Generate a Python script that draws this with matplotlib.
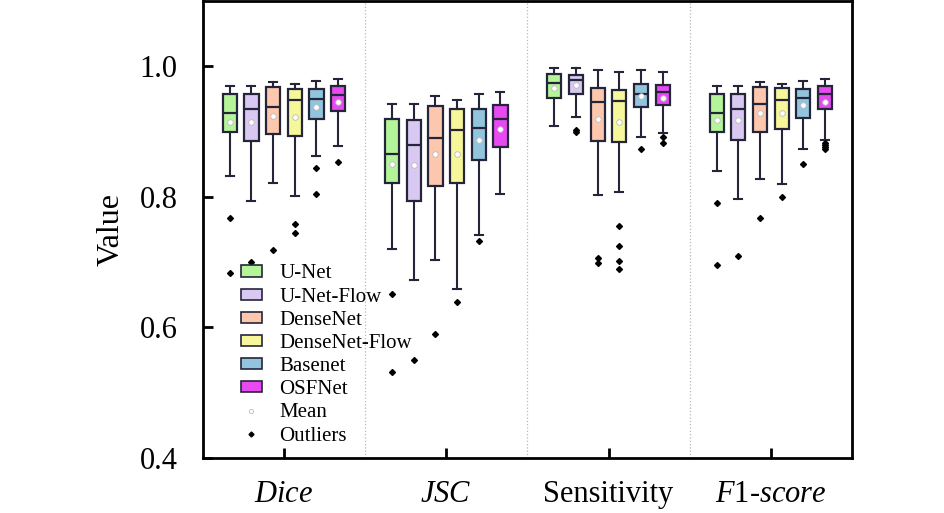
import numpy as np
import matplotlib
matplotlib.use('Agg')
import matplotlib.pyplot as plt
from matplotlib.patches import Patch
from matplotlib.lines import Line2D

plt.rcParams['font.family'] = ['Liberation Serif', 'DejaVu Serif']
plt.rcParams['mathtext.fontset'] = 'custom'
plt.rcParams['mathtext.rm'] = 'Liberation Serif'
plt.rcParams['mathtext.it'] = 'Liberation Serif:italic'

metrics = ['Dice', 'JSC', 'Sensitivity', 'F1-score']
metric_labels = [r'$\it{Dice}$', r'$\it{JSC}$', 'Sensitivity', r'$\it{F}$1-$\it{score}$']
models = ['U-Net', 'U-Net-Flow', 'DenseNet', 'DenseNet-Flow', 'Basenet', 'OSFNet']
colors = ['#b5f59a', '#d8c8f2', '#fcc7ad', '#f5f79a', '#92c4de', '#e64af0']

# per metric, per model: [whisker_low, q1, median, q3, whisker_high]
dice_stats = [[0.832, 0.899, 0.928, 0.958, 0.970],
              [0.793, 0.885, 0.934, 0.957, 0.970],
              [0.821, 0.897, 0.938, 0.968, 0.976],
              [0.802, 0.894, 0.948, 0.966, 0.973],
              [0.862, 0.920, 0.950, 0.965, 0.978],
              [0.878, 0.932, 0.956, 0.970, 0.980]]
jsc_stats = [[0.720, 0.822, 0.865, 0.919, 0.942],
             [0.672, 0.793, 0.879, 0.918, 0.943],
             [0.704, 0.816, 0.890, 0.939, 0.954],
             [0.659, 0.821, 0.903, 0.935, 0.949],
             [0.741, 0.856, 0.906, 0.934, 0.957],
             [0.804, 0.876, 0.920, 0.941, 0.960]]
sens_stats = [[0.909, 0.951, 0.974, 0.988, 0.997],
              [0.922, 0.957, 0.979, 0.987, 0.997],
              [0.803, 0.886, 0.946, 0.967, 0.995],
              [0.808, 0.884, 0.947, 0.964, 0.991],
              [0.891, 0.938, 0.958, 0.973, 0.994],
              [0.898, 0.940, 0.960, 0.972, 0.991]]
f1_stats = [[0.840, 0.900, 0.929, 0.958, 0.970],
            [0.797, 0.887, 0.935, 0.957, 0.970],
            [0.828, 0.899, 0.942, 0.968, 0.976],
            [0.819, 0.904, 0.949, 0.967, 0.973],
            [0.874, 0.921, 0.952, 0.965, 0.978],
            [0.887, 0.935, 0.957, 0.970, 0.980]]

dice_means = [0.914, 0.914, 0.924, 0.922, 0.937, 0.946]
jsc_means = [0.850, 0.849, 0.866, 0.866, 0.887, 0.904]
sens_means = [0.967, 0.971, 0.919, 0.915, 0.954, 0.951]
f1_means = [0.918, 0.917, 0.928, 0.928, 0.940, 0.946]

dice_fliers = [[0.767, 0.684], [0.700], [0.719], [0.759, 0.745], [0.844, 0.805], [0.853]]
jsc_fliers = [[0.651, 0.532], [0.550], [0.590], [0.639], [0.733], []]
sens_fliers = [[], [0.900, 0.902], [0.707, 0.698], [0.756, 0.725, 0.702, 0.690], [0.874], [0.891, 0.882]]
f1_fliers = [[0.790, 0.695], [0.709], [0.768], [0.800], [0.850], [0.882, 0.879, 0.876, 0.874]]

all_stats = [dice_stats, jsc_stats, sens_stats, f1_stats]
all_means = [dice_means, jsc_means, sens_means, f1_means]
all_fliers = [dice_fliers, jsc_fliers, sens_fliers, f1_fliers]

fig = plt.figure(figsize=(9.45, 5.13), dpi=100)
ax = fig.add_axes([0.2145, 0.1072, 0.6871, 0.8908])

step = 0.1335
width = 0.088
edge = '#25253a'

for g in range(len(metrics)):
    for m in range(len(models)):
        wl, q1, med, q3, wh = all_stats[g][m]
        st = [dict(whislo=wl, q1=q1, med=med, q3=q3, whishi=wh,
                   mean=all_means[g][m], fliers=all_fliers[g][m])]
        pos = g + (m - 2.5) * step
        bp = ax.bxp(st, positions=[pos], widths=width, patch_artist=True,
                    showmeans=True, showfliers=True, manage_ticks=False,
                    boxprops=dict(facecolor=colors[m], edgecolor=edge, linewidth=1.6),
                    medianprops=dict(color=edge, linewidth=1.6),
                    whiskerprops=dict(color=edge, linewidth=1.5),
                    capprops=dict(color=edge, linewidth=1.5),
                    capwidths=width * 0.55,
                    meanprops=dict(marker='o', markerfacecolor='white',
                                   markeredgecolor='#bbbbbb', markersize=4,
                                   markeredgewidth=0.6),
                    flierprops=dict(marker='D', markerfacecolor='black',
                                    markeredgecolor='black', markersize=3))

for sep in [0.5, 1.5, 2.5]:
    ax.axvline(sep, color='#b8b8b8', linestyle=':', linewidth=0.9, zorder=0)

ax.set_xlim(-0.5, 3.5)
ax.set_ylim(0.4, 1.1)
ax.set_yticks([0.4, 0.6, 0.8, 1.0])
ax.set_yticklabels(['0.4', '0.6', '0.8', '1.0'])
ax.set_xticks(range(len(metrics)))
ax.set_xticklabels(metric_labels)
ax.tick_params(axis='both', direction='in', length=7, width=2, labelsize=22)
ax.tick_params(axis='x', pad=16)
ax.tick_params(axis='y', pad=18)
for s in ax.spines.values():
    s.set_linewidth(2)
ax.set_ylabel('Value', fontsize=23, labelpad=10)

handles = [Patch(facecolor=c, edgecolor=edge, linewidth=1.2) for c in colors]
handles.append(Line2D([], [], linestyle='none', marker='o', markerfacecolor='white',
                      markeredgecolor='#bbbbbb', markersize=3, markeredgewidth=0.6))
handles.append(Line2D([], [], linestyle='none', marker='D', markerfacecolor='black',
                      markeredgecolor='black', markersize=2.5))
ax.legend(handles, models + ['Mean', 'Outliers'], loc='upper left',
          bbox_to_anchor=(0.046, 0.442), frameon=False, fontsize=15,
          labelspacing=0.2, handlelength=1.0, handleheight=0.45,
          handletextpad=0.85, borderaxespad=0)

fig.savefig('out.png', dpi=100)
